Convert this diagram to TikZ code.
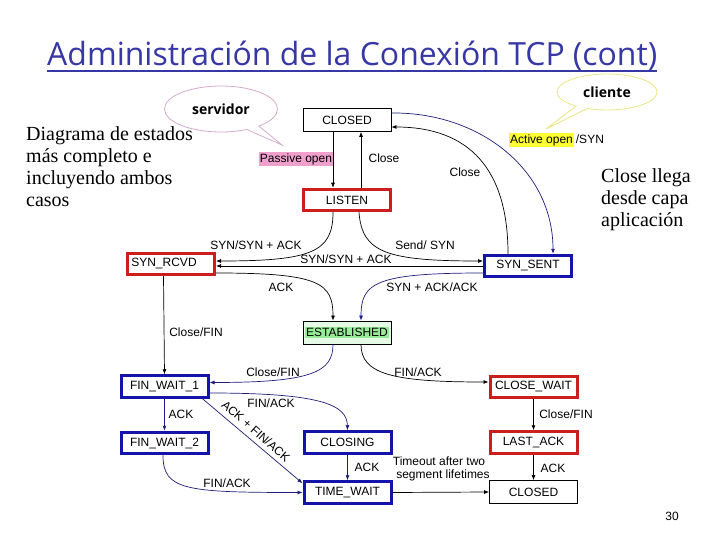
\documentclass[tikz,border=0pt]{standalone}
\usepackage{fontspec}
\setmainfont{Liberation Sans}
\newfontfamily\seriffont{Liberation Serif}
\newfontfamily\titlefont{Open Sans}
\usetikzlibrary{shapes.callouts,arrows.meta}
\definecolor{navy}{RGB}{30,30,120}
\definecolor{redb}{RGB}{205,30,30}
\definecolor{blueb}{RGB}{20,20,170}
\definecolor{titleblue}{RGB}{55,55,165}
\definecolor{pinkbg}{RGB}{240,160,205}
\definecolor{yelbg}{RGB}{255,255,50}
\definecolor{estabbg}{RGB}{228,250,228}
\definecolor{estabtx}{RGB}{150,235,150}
\definecolor{pinkline}{RGB}{215,170,205}
\definecolor{yelline}{RGB}{235,230,130}
\setlength{\fboxsep}{1pt}
\begin{document}
\begin{tikzpicture}[x=1pt,y=-1pt,
  font=\fontsize{12}{14}\selectfont,
  thickstate/.style={draw, rectangle, line width=3pt, minimum width=87pt, minimum height=21.5pt, inner sep=1pt},
  redstate/.style={thickstate, draw=redb},
  bluestate/.style={thickstate, draw=blueb},
  plainstate/.style={draw=black, rectangle, line width=0.8pt, minimum width=88pt, minimum height=23pt, inner sep=1pt},
  arr/.style={-{Latex[length=5pt,width=4pt]}, line width=0.7pt},
  navyarr/.style={arr, draw=navy},
  lbl/.style={inner sep=1pt},
  bigtext/.style={inner sep=0pt, align=left, anchor=north west, font=\seriffont\fontsize{20}{22}\selectfont},
  callout/.style={ellipse callout, fill=white, line width=0.8pt, font=\titlefont\bfseries\fontsize{14}{16}\selectfont}
]
\path[use as bounding box, fill=white] (0,0) rectangle (720,540);

% title
\node[anchor=base west, inner sep=0pt, text=titleblue] (title) at (47,66)
  {\resizebox{610pt}{!}{\titlefont Administración de la Conexión TCP (cont)}};
\draw[titleblue, line width=2pt] (47,71) -- (657,71);

% callouts
\node[callout, draw=pinkline, minimum width=113pt, minimum height=46pt,
      callout absolute pointer={(282,145)}] (serv) at (221,109) {servidor};
\node[callout, draw=yelline, minimum width=100pt, minimum height=36pt,
      callout absolute pointer={(546,129)}] (cli) at (607,92) {cliente};

% side texts
\node[bigtext] (lefttext) at (26,126.5) {Diagrama de estados\\más completo e\\incluyendo ambos\\casos};
\node[bigtext] (righttext) at (601,168.5) {Close llega\\desde capa\\aplicación};

% states
\node[plainstate] (closedT) at (347,120) {CLOSED};
\node[redstate] (listen) at (347,200) {LISTEN};
\node[redstate] (synrcvd) at (171,264) {SYN\_RCVD\hspace*{14pt}};
\node[bluestate] (synsent) at (528,266) {SYN\_SENT};
\node[plainstate, fill=estabbg] (estab) at (347,332.5) {\colorbox{estabtx}{ESTABLISHED}};
\node[bluestate] (fw1) at (164.5,386.5) {FIN\_WAIT\_1};
\node[bluestate] (fw2) at (164.5,443) {FIN\_WAIT\_2};
\node[bluestate] (closing) at (347.5,442.5) {CLOSING};
\node[bluestate] (timewait) at (347.5,492.5) {TIME\_WAIT};
\node[redstate] (closewait) at (533.5,387) {CLOSE\_WAIT};
\node[redstate] (lastack) at (533.5,442.5) {LAST\_ACK};
\node[plainstate] (closedB) at (533.5,492) {CLOSED};

% connectors
\draw[arr] ([xshift=-14pt]closedT.south) -- ([xshift=-14pt]listen.north);
\draw[arr] ([xshift=14pt]listen.north) -- ([xshift=14pt]closedT.south);
\draw[navyarr] ([yshift=7pt]closedT.east) .. controls (480,112) and (553,170) .. ([xshift=25pt]synsent.north);
\draw[arr] ([xshift=-20pt]synsent.north) .. controls (508,170) and (470,127) .. ([yshift=-7pt]closedT.east);
\draw[arr] ([xshift=-14pt]listen.south) .. controls (333,252) and (312,261) .. ([yshift=3pt]synrcvd.east);
\draw[arr] ([xshift=12pt]listen.south) .. controls (362,252) and (385,261) .. ([yshift=5pt]synsent.west);
\draw[arr] (synsent.west) -- ([yshift=-2pt]synrcvd.east);
\draw[arr] ([yshift=-9pt]synrcvd.east) .. controls (320,273) and (333,283) .. ([xshift=-14pt]estab.north);
\draw[navyarr] ([yshift=-7pt]synsent.west) .. controls (375,273) and (361,283) .. ([xshift=14pt]estab.north);
\draw[arr] ([xshift=-7.5pt]synrcvd.south) -- (fw1.north);
\draw[navyarr] ([xshift=-14pt]estab.south) .. controls (333,372) and (312,382.5) .. ([yshift=4pt]fw1.east);
\draw[arr] ([xshift=14pt]estab.south) .. controls (361,374) and (392,382) .. ([yshift=5pt]closewait.west);
\draw[navyarr] (fw1) -- (fw2);
\draw[navyarr] ([yshift=-6.5pt]fw1.east) .. controls (322,393) and (347,405) .. (closing.north);
\draw[navyarr] ([xshift=-7pt]fw1.south east) -- ([yshift=-3pt]timewait.north west);
\draw[navyarr] ([xshift=-1.5pt]fw2.south) .. controls (163,490) and (185,492.5) .. (timewait.west);
\draw[navyarr] (closing) -- (timewait);
\draw[arr] (closewait) -- (lastack);
\draw[arr] (lastack) -- (closedB);
\draw[arr] (timewait.east) -- (closedB.west);

% labels
\node[lbl, fill=pinkbg] (lpassive) at (296,159) {Passive open};
\node[lbl] (lclose1) at (384,158) {Close};
\node[lbl, anchor=west, inner sep=0pt] (lactive) at (509,140) {\colorbox{yelbg}{Active open}\,/SYN};
\node[lbl] (lclose2) at (465,172) {Close};
\node[lbl] (lsynack1) at (256,245) {SYN/SYN + ACK};
\node[lbl] (lsend) at (425,245) {Send/ SYN};
\node[lbl] (lsynack2) at (346,259) {SYN/SYN + ACK};
\node[lbl] (lack1) at (281,287) {ACK};
\node[lbl] (lsynackack) at (432,287) {SYN + ACK/ACK};
\node[lbl] (lclosefin1) at (196,332) {Close/FIN};
\node[lbl] (lclosefin2) at (273,372) {Close/FIN};
\node[lbl] (lfinack1) at (418,372) {FIN/ACK};
\node[lbl] (lack2) at (181,414) {ACK};
\node[lbl] (lfinack2) at (271,403) {FIN/ACK};
\node[lbl, rotate=-41.2] (ldiag) at (256,431) {ACK + FIN/ACK};
\node[lbl] (lfinack3) at (227,483) {FIN/ACK};
\node[lbl] (lack3) at (367,467) {ACK};
\node[lbl] (lclosefin3) at (566,414) {Close/FIN};
\node[lbl] (lack4) at (553,468) {ACK};
\node[lbl, align=center, font=\fontsize{12}{13.5}\selectfont] (ltimeout) at (439,469) {Timeout after two\\\hspace*{8pt}segment lifetimes};
\node[lbl] (page) at (672,516) {30};
\end{tikzpicture}
\end{document}
